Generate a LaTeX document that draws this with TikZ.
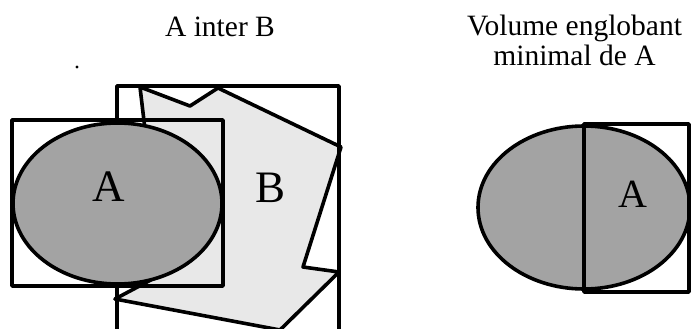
\documentclass[tikz,border=0pt]{standalone}
\usepackage{fontspec}
\setmainfont{Liberation Serif}
\begin{document}
\begin{tikzpicture}[x=1pt,y=-1pt, line width=3.6pt, line join=round,
  afill/.style={fill=black!36},
  bfill/.style={fill=black!9},
  title/.style={inner sep=0pt, font=\fontsize{29.5}{30}\selectfont, align=center},
  big/.style={inner sep=0pt, font=\fontsize{45}{45}\selectfont},
  mid/.style={inner sep=0pt, font=\fontsize{40}{40}\selectfont}]
\useasboundingbox (0,0) rectangle (691,329);
% titles
\node[title, anchor=base] (t1) at (220,37) {A inter B};
\node[title, anchor=base] (t2) at (574.5,66) {Volume englobant\\minimal de A};
% speck
\fill (77,67) circle (1.6);
% left: polygon B
\fill[bfill] (140,87) -- (190,106) -- (218,88) -- (341,147) -- (303,267) -- (339,272) -- (280,330) -- (115,299) -- (162,274) -- cycle;
\draw (117,86) rectangle (339,345);
\draw (140,87) -- (190,106) -- (218,88) -- (341,147) -- (303,267) -- (339,272) -- (280,330) -- (115,299) -- (162,274) -- cycle;
\draw (12,120) rectangle (223,286);
\draw[afill] (117.5,203.5) ellipse [x radius=104.5, y radius=80.5];
\node[big, anchor=base] (la) at (109,201) {A};
\node[big, anchor=base] (lb) at (270.5,202) {B};
% right
\draw[afill] (584,207.5) ellipse [x radius=106, y radius=81.5];
\draw (584,124) rectangle (689,292);
\node[mid, anchor=base] (ra) at (633,207) {A};
\end{tikzpicture}
\end{document}
